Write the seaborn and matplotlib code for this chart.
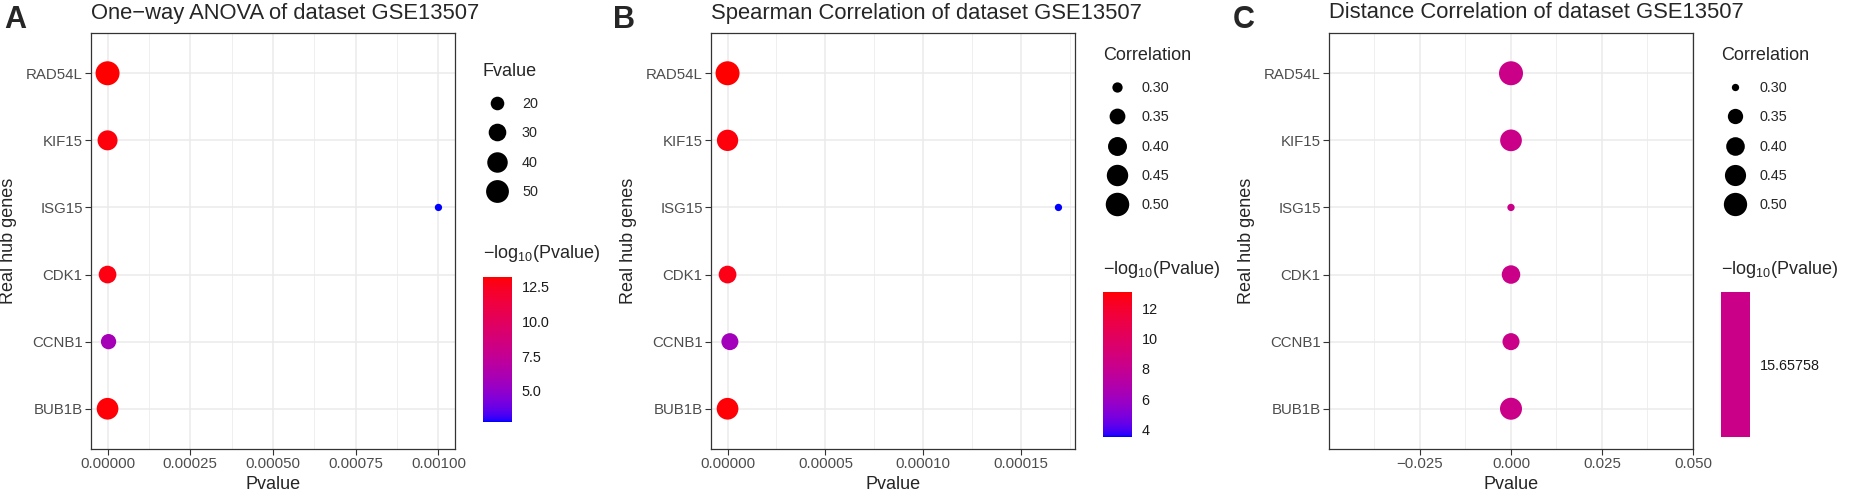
import numpy as np
import pandas as pd
import seaborn as sns
import matplotlib
matplotlib.use("Agg")
import matplotlib.pyplot as plt
from matplotlib.colors import LinearSegmentedColormap, ListedColormap, Normalize
from matplotlib.lines import Line2D
from matplotlib.ticker import FixedLocator, FuncFormatter

# data
genes = ["RAD54L", "KIF15", "ISG15", "CDK1", "CCNB1", "BUB1B"]

anova_p = [6e-14, 2.5e-13, 0.001, 5e-13, 3e-6, 1.3e-13]
anova_logp = [13.22, 13.0, 2.76, 12.9, 5.9, 13.1]
anova_f = [55.7, 38.1, 14.1, 30.2, 23.6, 45.0]

spearman_p = [8e-14, 3e-13, 0.000169, 2e-12, 1.2e-6, 1.5e-13]
spearman_logp = [13.1, 12.9, 3.49, 12.7, 6.2, 13.0]
spearman_r = [0.513, 0.448, 0.293, 0.379, 0.367, 0.457]

dcor_p = [2.2e-16, 2.2e-16, 2.2e-16, 2.2e-16, 2.2e-16, 2.2e-16]
dcor_logp = [15.65758, 15.65758, 15.65758, 15.65758, 15.65758, 15.65758]
dcor_r = [0.518, 0.462, 0.300, 0.398, 0.374, 0.469]

titles = ["One\u2212way ANOVA of dataset GSE13507",
          "Spearman Correlation of dataset GSE13507",
          "Distance Correlation of dataset GSE13507"]
letters = ["A", "B", "C"]
size_titles = ["Fvalue", "Correlation", "Correlation"]
size_breaks = [[20, 30, 40, 50], [0.30, 0.35, 0.40, 0.45, 0.50], [0.30, 0.35, 0.40, 0.45, 0.50]]
size_labels = [["20", "30", "40", "50"], ["0.30", "0.35", "0.40", "0.45", "0.50"],
               ["0.30", "0.35", "0.40", "0.45", "0.50"]]
x_ticks = [[0, 0.00025, 0.0005, 0.00075, 0.001], [0, 0.00005, 0.0001, 0.00015],
           [-0.025, 0, 0.025, 0.05]]
x_fmt = ["%.5f", "%.5f", "%.3f"]
cb_ticks = [[5, 7.5, 10, 12.5], [4, 6, 8, 10, 12], [15.65758]]
cb_labels = [["5.0", "7.5", "10.0", "12.5"], ["4", "6", "8", "10", "12"], ["15.65758"]]


# ggplot-like blue -> red gradient interpolated in CIELAB
WHITE = np.array([0.95047, 1.0, 1.08883])
M = np.array([[0.4124, 0.3576, 0.1805], [0.2126, 0.7152, 0.0722], [0.0193, 0.1192, 0.9505]])


def to_lab(rgb):
    c = np.asarray(rgb, float)
    lin = np.where(c <= 0.04045, c / 12.92, ((c + 0.055) / 1.055) ** 2.4)
    xyz = M @ lin / WHITE
    f = np.where(xyz > 0.008856, np.cbrt(xyz), 7.787 * xyz + 16 / 116)
    return np.array([116 * f[1] - 16, 500 * (f[0] - f[1]), 200 * (f[1] - f[2])])


def from_lab(lab):
    fy = (lab[0] + 16) / 116
    f = np.array([fy + lab[1] / 500, fy, fy - lab[2] / 200])
    xyz = np.where(f ** 3 > 0.008856, f ** 3, (f - 16 / 116) / 7.787) * WHITE
    lin = np.clip(np.linalg.inv(M) @ xyz, 0, 1)
    c = np.where(lin <= 0.0031308, 12.92 * lin, 1.055 * lin ** (1 / 2.4) - 0.055)
    return np.clip(c, 0, 1)


lo, hi = to_lab([0, 0, 1]), to_lab([1, 0, 0])
cmap = LinearSegmentedColormap.from_list(
    "lab", [from_lab(lo + t * (hi - lo)) for t in np.linspace(0, 1, 256)])

sns.set_style("ticks")
plt.rcParams["font.family"] = ["Liberation Sans", "DejaVu Sans"]
plt.rcParams["mathtext.default"] = "regular"

W, H = 1850, 494
fig = plt.figure(figsize=(W / 100, H / 100), dpi=100)


def box(l, t, r, b):
    return [l / W, 1 - b / H, (r - l) / W, (b - t) / H]


def diam(v, vmin, vmax):
    # area scale like ggplot scale_size, result in points
    t = np.clip((np.asarray(v, float) - vmin) / (vmax - vmin), 0, 1)
    return (7.3 + 16.7 * np.sqrt(t)) * 0.72


panel_p = [anova_p, spearman_p, dcor_p]
panel_logp = [anova_logp, spearman_logp, dcor_logp]
panel_size = [anova_f, spearman_r, dcor_r]
offsets = [0, 620, 1238]
letter_x = [4, 613, 1233]

for i in range(3):
    off = offsets[i]
    df = pd.DataFrame({"Gene": genes, "Pvalue": panel_p[i],
                       "logp": panel_logp[i], "size": panel_size[i]})
    smin, smax = df["size"].min(), df["size"].max()
    lmin, lmax = df["logp"].min(), df["logp"].max()
    if lmax > lmin:
        norm = Normalize(lmin, lmax)
        cb_cmap = cmap
    else:
        # single value: ggplot puts it at the middle of the gradient
        norm = Normalize(lmin - 1, lmax + 1)
        cb_cmap = ListedColormap([cmap(0.5)])

    ax = fig.add_axes(box(91 + off, 33, 455 + off, 449))
    sns.scatterplot(data=df, x="Pvalue", y="Gene", hue="logp", palette=cmap, hue_norm=norm,
                    size="size", sizes={v: diam(v, smin, smax) ** 2 for v in df["size"]},
                    legend=False, linewidth=0, ax=ax, zorder=3)

    pmin, pmax = df["Pvalue"].min(), df["Pvalue"].max()
    if pmax - pmin > 1e-12:
        pad = 0.05 * (pmax - pmin)
        ax.set_xlim(pmin - pad, pmax + pad)
    else:
        ax.set_xlim(pmin - 0.05, pmax + 0.05)
    ax.set_ylim(len(genes) - 0.4, -0.6)

    xt = x_ticks[i]
    step = xt[1] - xt[0]
    ax.xaxis.set_major_locator(FixedLocator(xt))
    ax.xaxis.set_minor_locator(FixedLocator(np.arange(xt[0] - 1.5 * step, xt[-1] + step, step)))
    ax.xaxis.set_major_formatter(FuncFormatter(lambda v, p, f=x_fmt[i]: (f % v).replace("-", "\u2212")))
    ax.set_xlim(ax.get_xlim())

    ax.grid(which="major", color="#EBEBEB", lw=1.1)
    ax.grid(which="minor", axis="x", color="#EBEBEB", lw=0.55)
    ax.set_axisbelow(True)
    for s in ax.spines.values():
        s.set_color("#333333")
        s.set_linewidth(0.9)
    ax.tick_params(which="major", color="#333333", length=4, width=0.8,
                   labelsize=10.8, labelcolor="#4D4D4D", pad=2)
    ax.tick_params(which="minor", length=0)
    ax.set_xlabel("Pvalue", fontsize=13, labelpad=3)
    ax.set_ylabel("Real hub genes", fontsize=13, labelpad=6)

    fig.text((91 + off) / W, 1 - 13 / H, titles[i], fontsize=15.8, va="center", ha="left")
    fig.text(letter_x[i] / W, 1 - 20 / H, letters[i], fontsize=22, fontweight="bold",
             va="center", ha="left")

    # size legend
    ty = 71 if i == 0 else 55
    fig.text((483 + off) / W, 1 - ty / H, size_titles[i], fontsize=13, va="center", ha="left")
    handles = [Line2D([], [], ls="", marker="o", color="black", markeredgewidth=0,
                      markersize=diam(b, smin, smax)) for b in size_breaks[i]]
    fig.legend(handles, size_labels[i], loc="upper left",
               bbox_to_anchor=((483 + off) / W, 1 - (ty + 26) / H), frameon=False,
               fontsize=10.4, labelspacing=1.06, handletextpad=0.7,
               handlelength=2.0, borderpad=0, borderaxespad=0)

    # colour bar
    cb_top = 277 if i == 0 else 292
    cax = fig.add_axes(box(483 + off, cb_top, 512 + off, cb_top + 145))
    sm = matplotlib.cm.ScalarMappable(norm=norm, cmap=cb_cmap)
    cb = fig.colorbar(sm, cax=cax, ticks=cb_ticks[i])
    cb.outline.set_visible(False)
    cb.minorticks_off()
    cax.set_yticklabels(cb_labels[i])
    cax.tick_params(direction="in", color="white", length=5.5, width=0.8, left=True,
                    right=True, labelsize=10.4, labelcolor="#1A1A1A", pad=7)
    fig.text((483 + off) / W, 1 - (cb_top - 23) / H, r"$-$log$_{10}$(Pvalue)",
             fontsize=13, va="center", ha="left")

fig.savefig("out.png", dpi=100, facecolor="white")
